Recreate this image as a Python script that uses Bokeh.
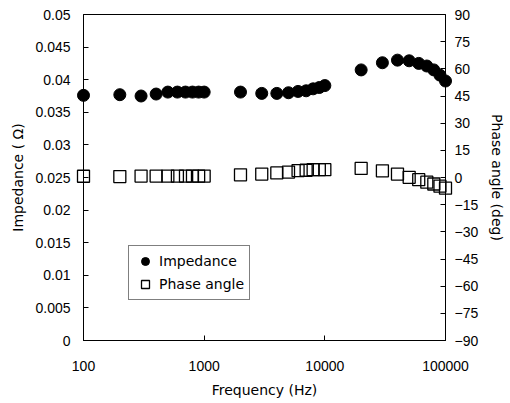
from bokeh.plotting import figure
from bokeh.models import (Range1d, LinearAxis, FixedTicker, CustomJSTickFormatter,
                          Legend, LegendItem)
from bokeh.embed import file_html
from bokeh.resources import INLINE

freq = [100, 200, 300, 400, 500, 600, 700, 800, 900, 1000,
        2000, 3000, 4000, 5000, 6000, 7000, 8000, 9000, 10000,
        20000, 30000, 40000, 50000, 60000, 70000, 80000, 90000, 100000]
impedance = [0.0376, 0.0377, 0.0375, 0.0378, 0.0381, 0.0381, 0.0381, 0.0381, 0.0381, 0.0381,
             0.0381, 0.0379, 0.0379, 0.0380, 0.0382, 0.0383, 0.0386, 0.0388, 0.0391,
             0.0415, 0.0426, 0.0430, 0.0429, 0.0425, 0.0421, 0.0415, 0.0407, 0.0398]
phase = [0.7, 0.5, 0.8, 0.8, 0.8, 0.8, 0.8, 0.8, 0.8, 0.8,
         1.5, 1.9, 2.5, 3.0, 3.8, 4.0, 4.3, 4.3, 4.3,
         5.0, 3.7, 1.9, 0.1, -1.2, -2.6, -3.6, -4.8, -5.9]
x_ticks = [100, 1000, 10000, 100000]
imp_ticks = [0, 0.005, 0.01, 0.015, 0.02, 0.025, 0.03, 0.035, 0.04, 0.045, 0.05]
phase_ticks = [-90, -75, -60, -45, -30, -15, 0, 15, 30, 45, 60, 75, 90]

FONT = "Liberation Sans"
TFONT = "DejaVu Sans"

p = figure(width=508, height=400, x_axis_type="log",
           x_range=Range1d(100, 100000), y_range=Range1d(0, 0.05),
           output_backend="svg", toolbar_location=None,
           min_border_left=83, min_border_right=62, min_border_top=14, min_border_bottom=57)
p.extra_y_ranges = {"phase": Range1d(-90, 90)}
p.xgrid.visible = False
p.ygrid.visible = False
p.outline_line_color = "black"
p.outline_line_width = 1
p.background_fill_color = "white"
p.border_fill_color = "white"

def style_axis(ax, label_standoff):
    ax.axis_line_color = "black"
    ax.major_tick_in = 5
    ax.major_tick_out = 0
    ax.minor_tick_in = 0
    ax.minor_tick_out = 0
    ax.major_label_text_font = FONT
    ax.major_label_text_font_size = "14px"
    ax.major_label_text_color = "black"
    ax.axis_label_text_font = TFONT
    ax.axis_label_text_font_size = "14px"
    ax.axis_label_text_font_style = "normal"
    ax.axis_label_text_color = "black"
    ax.major_label_standoff = label_standoff

xa = p.xaxis[0]
xa.ticker = FixedTicker(ticks=x_ticks, minor_ticks=[])
xa.formatter = CustomJSTickFormatter(code="return tick.toFixed(0);")
xa.axis_label = "Frequency (Hz)"
style_axis(xa, 20)
xa.axis_label_standoff = 8

ya = p.yaxis[0]
ya.ticker = FixedTicker(ticks=imp_ticks, minor_ticks=[])
ya.formatter = CustomJSTickFormatter(code="return Number(tick.toFixed(3)).toString();")
ya.axis_label = "Impedance ( Ω)"
style_axis(ya, 13)
ya.axis_label_standoff = 6

ra = LinearAxis(y_range_name="phase", axis_label="Phase angle (deg)")
ra.ticker = FixedTicker(ticks=phase_ticks, minor_ticks=[])
ra.formatter = CustomJSTickFormatter(code="return tick < 0 ? '\u2212' + Math.abs(tick) : String(tick);")
style_axis(ra, 9)
ra.axis_label_standoff = 8
p.add_layout(ra, "right")

r_imp = p.scatter(freq, impedance, marker="circle", size=12,
                  fill_color="black", line_color="black", level="overlay")
r_ph = p.scatter(freq, phase, marker="square", size=12, y_range_name="phase",
                 fill_color=None, line_color="black", line_width=1.3, level="overlay")

legend = Legend(items=[LegendItem(label="Impedance", renderers=[r_imp]),
                       LegendItem(label="Phase angle", renderers=[r_ph])],
                location=(45, 40))
legend.border_line_color = "black"
legend.border_line_width = 1
legend.label_text_font = TFONT
legend.label_text_font_size = "14px"
legend.label_text_color = "black"
legend.padding = 5
legend.spacing = 3
legend.margin = 0
legend.glyph_width = 22
legend.glyph_height = 20
legend.label_standoff = 3
legend.background_fill_alpha = 1
p.add_layout(legend, "center")

open("out.html", "w").write(file_html(p, INLINE))
